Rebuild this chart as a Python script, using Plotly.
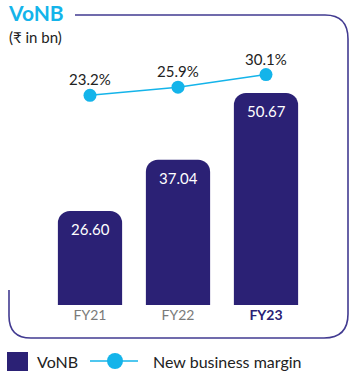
import plotly.graph_objects as go

# ---- data ----
years = ["FY21", "FY22", "FY23"]
vonb = [26.60, 37.04, 50.67]
vonb_labels = ["26.60", "37.04", "50.67"]
margin_pct = [23.2, 25.9, 30.1]
margin_labels = ["23.2%", "25.9%", "30.1%"]
tick_labels = [
    "<span style='color:#7a7a7a'>FY21</span>",
    "<span style='color:#7a7a7a'>FY22</span>",
    "<b><span style='color:#2b2175'>FY23</span></b>",
]
series_names = ["VoNB", "New business margin"]

W, H = 356, 383
BAR = "#2b2175"
CYAN = "#14b4ea"
FRAME = "#423b91"
FONT = "Lato, 'Open Sans', sans-serif"
TXT = "#222222"


def px(x):
    return x / W


def py(y):
    return 1 - y / H


fig = go.Figure()
fig.add_trace(go.Bar(
    x=years, y=vonb, name=series_names[0],
    marker=dict(color=BAR, cornerradius=12, line=dict(width=0)),
    hoverinfo="x+y",
))
fig.add_trace(go.Scatter(
    x=years, y=margin_pct, name=series_names[1], yaxis="y2",
    mode="lines+markers",
    line=dict(color=CYAN, width=1.5), marker=dict(color=CYAN, size=13),
    cliponaxis=False,
))

annotations = []
# value labels inside bars
for x, v, t in zip(years, vonb, vonb_labels):
    annotations.append(dict(x=x, y=v, xref="x", yref="y", yshift=-18,
                            text=t, showarrow=False, xanchor="center", yanchor="middle",
                            font=dict(size=15, color="white", family=FONT)))
# margin labels above points
for x, v, t in zip(years, margin_pct, margin_labels):
    annotations.append(dict(x=x, y=v, xref="x", yref="y2", yshift=16,
                            text=t, showarrow=False, xanchor="center", yanchor="middle",
                            font=dict(size=15, color=TXT, family=FONT)))
# title / subtitle
annotations += [
    dict(text="<b>VoNB</b>", xref="paper", yref="paper", x=px(6), y=py(12),
         xanchor="left", yanchor="middle", showarrow=False,
         font=dict(size=21, color=CYAN, family=FONT)),
    dict(text="(₹ in bn)", xref="paper", yref="paper", x=px(7), y=py(37),
         xanchor="left", yanchor="middle", showarrow=False,
         font=dict(size=15, color=TXT, family=FONT)),
    # legend texts
    dict(text=series_names[0], xref="paper", yref="paper", x=px(35), y=py(361),
         xanchor="left", yanchor="middle", showarrow=False,
         font=dict(size=16, color=TXT, family=FONT)),
    dict(text=series_names[1], xref="paper", yref="paper", x=px(151), y=py(361),
         xanchor="left", yanchor="middle", showarrow=False,
         font=dict(size=16, color=TXT, family=FONT)),
]


def P(x, y):
    return f"{px(x):.5f},{py(y):.5f}"


frame_path = (
    f"M{P(75,15)} L{P(325,15)} Q{P(348,15)} {P(348,39)} "
    f"L{P(348,314)} Q{P(348,338)} {P(324,338)} "
    f"L{P(31,338)} Q{P(9,338)} {P(9,316)} L{P(9,290)}"
)

shapes = [
    dict(type="path", xref="paper", yref="paper", path=frame_path,
         line=dict(color=FRAME, width=1.6)),
    # legend keys
    dict(type="rect", xref="paper", yref="paper", x0=px(7), x1=px(28), y0=py(371), y1=py(352),
         fillcolor=BAR, line=dict(width=0)),
    dict(type="line", xref="paper", yref="paper", x0=px(90), x1=px(138), y0=py(361), y1=py(361),
         line=dict(color=CYAN, width=1.5)),
    dict(type="circle", xref="paper", yref="paper", x0=px(107), x1=px(123), y0=py(369), y1=py(353),
         fillcolor=CYAN, line=dict(width=0)),
]

ydom = [py(305), py(15)]
fig.update_layout(
    width=W, height=H, autosize=False,
    margin=dict(l=0, r=0, t=0, b=0),
    paper_bgcolor="white", plot_bgcolor="white",
    font=dict(family=FONT, color=TXT),
    bargap=0.27,
    showlegend=False,
    xaxis=dict(domain=[px(46), px(310)], range=[-0.5, 2.5], type="category",
               tickvals=years, ticktext=tick_labels, showgrid=False, showline=False,
               zeroline=False, ticks="", tickfont=dict(size=14, family=FONT),
               fixedrange=True),
    yaxis=dict(domain=ydom, range=[7.42, 66.6], visible=False, fixedrange=True),
    yaxis2=dict(domain=ydom, range=[-46.5, 49.9], overlaying="y", visible=False,
                fixedrange=True),
    shapes=shapes,
    annotations=annotations,
)

# remove the browser's default 8px body margin so the figure sits at the page corner
fig.write_html("out.html",
               config={"displayModeBar": False},
               post_script="document.body.style.margin='0';document.body.style.overflow='hidden';")
